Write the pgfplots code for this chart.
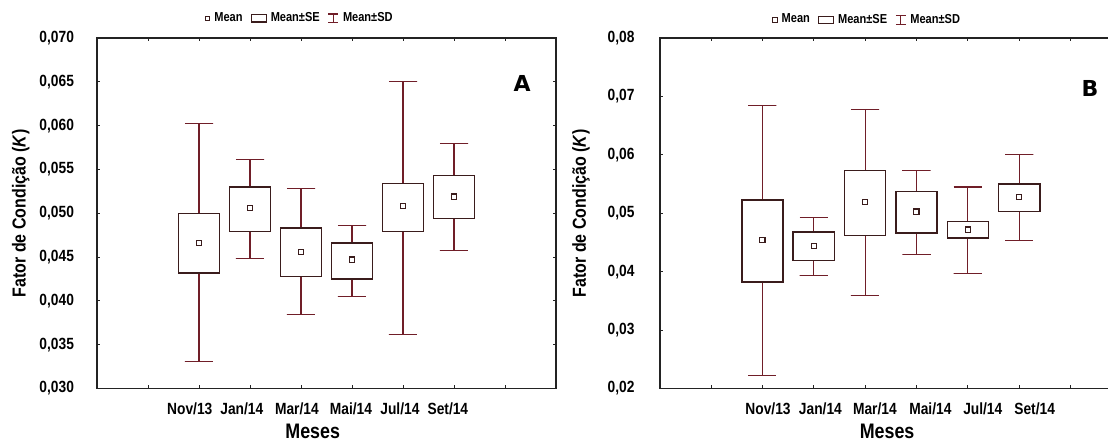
\documentclass[border=0pt]{standalone}
\usepackage{fontspec}
\setmainfont{Liberation Sans}[FakeStretch=0.85]
\newfontfamily\heavyfont{DejaVu Sans}
\usepackage{pgfplots}
\pgfplotsset{compat=1.18}
\definecolor{boxcol}{RGB}{58,28,28}
\definecolor{whiskcol}{RGB}{112,30,40}
\definecolor{axcol}{RGB}{35,35,35}

\pgfplotsset{
  kstyle/.style={
    scale only axis, height=175.25pt,
    xmin=0, xmax=9,
    xtick={1,2,3,4,5,6,7,8}, xticklabels={},
    extra x tick style={grid=none, major tick length=0pt},
    axis line style={draw=axcol, line width=0.9pt},
    major tick length=1.5pt,
    tick style={draw=axcol, line width=0.4pt},
    tick label style={font=\bfseries\fontsize{8.1}{9.7}\selectfont, text=black},
    /pgf/number format/assume math mode=true,
    scaled y ticks=false,
    xticklabel style={yshift=-3.5pt},
    xlabel style={font=\bfseries\fontsize{10.5}{12}\selectfont, anchor=center, yshift=-21.5pt},
    ylabel style={font=\bfseries\fontsize{9.4}{11}\selectfont, anchor=center},
    legend style={draw=none, fill=none, legend columns=-1, anchor=center,
      font=\bfseries\fontsize{6.5}{7.5}\selectfont, inner sep=0pt,
      /tikz/every even column/.append style={column sep=2pt}},
  },
  whisk/.style={draw=whiskcol, line width=0.55pt, mark=none, forget plot},
  sebox/.style={draw=boxcol, fill=white, line width=0.75pt, mark=none, forget plot},
  meanstyle/.style={only marks, mark=square, mark size=1.3pt,
    mark options={draw=boxcol, line width=0.6pt, fill=white}, forget plot},
}

\begin{document}
\begin{tikzpicture}
\useasboundingbox (0,0) rectangle (554pt,222pt);
\clip (0,0) rectangle (554pt,222pt);

% ---------------- Panel A ----------------
\begin{axis}[kstyle, at={(48.5pt,27.75pt)}, anchor=south west, width=229.5pt,
  ymin=0.03, ymax=0.07,
  ytick={0.03,0.035,0.04,0.045,0.05,0.055,0.06,0.065,0.07},
  yticklabel style={/pgf/number format/.cd, fixed, fixed zerofill, precision=3, use comma, /tikz/.cd, xshift=-8pt},
  extra x ticks={1.82,2.84,3.92,4.98,5.94,6.88},
  extra x tick labels={Nov/13,Jan/14,Mar/14,Mai/14,Jul/14,Set/14},
  xlabel={Meses}, xlabel style={at={(axis description cs:0.47,0)}},
  ylabel={Fator de Condição (\textit{K})}, ylabel style={at={(axis description cs:-0.166,0.5)}},
  legend style={at={(axis description cs:0.444,1)}, yshift=9.85pt},
]
% whiskers: mean +- SD
\addplot[whisk] coordinates {(1.725,0.0602) (2.275,0.0602) (2,0.0602) (2,0.0331) (1.725,0.0331) (2.275,0.0331)};
\addplot[whisk] coordinates {(2.725,0.0561) (3.275,0.0561) (3,0.0561) (3,0.0448) (2.725,0.0448) (3.275,0.0448)};
\addplot[whisk] coordinates {(3.725,0.0528) (4.275,0.0528) (4,0.0528) (4,0.0384) (3.725,0.0384) (4.275,0.0384)};
\addplot[whisk] coordinates {(4.725,0.0486) (5.275,0.0486) (5,0.0486) (5,0.0405) (4.725,0.0405) (5.275,0.0405)};
\addplot[whisk] coordinates {(5.725,0.0650) (6.275,0.0650) (6,0.0650) (6,0.0362) (5.725,0.0362) (6.275,0.0362)};
\addplot[whisk] coordinates {(6.725,0.0580) (7.275,0.0580) (7,0.0580) (7,0.0457) (6.725,0.0457) (7.275,0.0457)};
% boxes: mean +- SE
\addplot[sebox] coordinates {(1.6,0.0432) (2.4,0.0432) (2.4,0.0500) (1.6,0.0500)} -- cycle;
\addplot[sebox] coordinates {(2.6,0.0479) (3.4,0.0479) (3.4,0.0530) (2.6,0.0530)} -- cycle;
\addplot[sebox] coordinates {(3.6,0.0428) (4.4,0.0428) (4.4,0.0483) (3.6,0.0483)} -- cycle;
\addplot[sebox] coordinates {(4.6,0.0425) (5.4,0.0425) (5.4,0.0466) (4.6,0.0466)} -- cycle;
\addplot[sebox] coordinates {(5.6,0.0479) (6.4,0.0479) (6.4,0.0534) (5.6,0.0534)} -- cycle;
\addplot[sebox] coordinates {(6.6,0.0494) (7.4,0.0494) (7.4,0.0543) (6.6,0.0543)} -- cycle;
% means
\addplot[meanstyle] coordinates {(2,0.0466) (3,0.0506) (4,0.0456) (5,0.0447) (6,0.0508) (7,0.0519)};
\addlegendimage{legend image code/.code={\draw[boxcol, line width=0.5pt, fill=white] (-1.1pt,-1.1pt) rectangle (1.1pt,1.1pt);}}
\addlegendentry{Mean}
\addlegendimage{legend image code/.code={\draw[boxcol, line width=0.6pt] (0pt,-1.8pt) rectangle (7.5pt,1.8pt);}}
\addlegendentry{Mean±SE}
\addlegendimage{legend image code/.code={\draw[whiskcol, line width=0.6pt] (0pt,2.2pt) -- (5pt,2.2pt) (2.5pt,2.2pt) -- (2.5pt,-2.2pt) (0pt,-2.2pt) -- (5pt,-2.2pt);}}
\addlegendentry{Mean±SD}
\node[font=\heavyfont\bfseries\fontsize{11}{13}\selectfont] at (rel axis cs:0.926,0.869) {A};
\end{axis}

% ---------------- Panel B ----------------
\begin{axis}[kstyle, at={(329.8pt,27.75pt)}, anchor=south west, width=231.2pt,
  ymin=0.02, ymax=0.08,
  ytick={0.02,0.03,0.04,0.05,0.06,0.07,0.08},
  yticklabel style={/pgf/number format/.cd, fixed, fixed zerofill, precision=2, use comma, /tikz/.cd, xshift=-9pt},
  extra x ticks={2.11,3.13,4.19,5.27,6.29,7.30},
  extra x tick labels={Nov/13,Jan/14,Mar/14,Mai/14,Jul/14,Set/14},
  xlabel={Meses}, xlabel style={at={(axis description cs:0.492,0)}},
  ylabel={Fator de Condição (\textit{K})}, ylabel style={at={(axis description cs:-0.170,0.5)}},
  legend style={at={(axis description cs:0.451,1)}, yshift=9pt},
]
\addplot[whisk] coordinates {(1.725,0.0684) (2.275,0.0684) (2,0.0684) (2,0.0222) (1.725,0.0222) (2.275,0.0222)};
\addplot[whisk] coordinates {(2.725,0.0493) (3.275,0.0493) (3,0.0493) (3,0.0393) (2.725,0.0393) (3.275,0.0393)};
\addplot[whisk] coordinates {(3.725,0.0678) (4.275,0.0678) (4,0.0678) (4,0.0359) (3.725,0.0359) (4.275,0.0359)};
\addplot[whisk] coordinates {(4.725,0.0573) (5.275,0.0573) (5,0.0573) (5,0.0430) (4.725,0.0430) (5.275,0.0430)};
\addplot[whisk] coordinates {(5.725,0.0545) (6.275,0.0545) (6,0.0545) (6,0.0397) (5.725,0.0397) (6.275,0.0397)};
\addplot[whisk] coordinates {(6.725,0.0601) (7.275,0.0601) (7,0.0601) (7,0.0454) (6.725,0.0454) (7.275,0.0454)};
\addplot[sebox] coordinates {(1.6,0.0382) (2.4,0.0382) (2.4,0.0523) (1.6,0.0523)} -- cycle;
\addplot[sebox] coordinates {(2.6,0.0419) (3.4,0.0419) (3.4,0.0468) (2.6,0.0468)} -- cycle;
\addplot[sebox] coordinates {(3.6,0.0462) (4.4,0.0462) (4.4,0.0573) (3.6,0.0573)} -- cycle;
\addplot[sebox] coordinates {(4.6,0.0466) (5.4,0.0466) (5.4,0.0537) (4.6,0.0537)} -- cycle;
\addplot[sebox] coordinates {(5.6,0.0458) (6.4,0.0458) (6.4,0.0486) (5.6,0.0486)} -- cycle;
\addplot[sebox] coordinates {(6.6,0.0503) (7.4,0.0503) (7.4,0.0550) (6.6,0.0550)} -- cycle;
\addplot[meanstyle] coordinates {(2,0.0454) (3,0.0444) (4,0.0519) (5,0.0503) (6,0.0472) (7,0.0528)};
\addlegendimage{legend image code/.code={\draw[boxcol, line width=0.5pt, fill=white] (-1.1pt,-1.1pt) rectangle (1.1pt,1.1pt);}}
\addlegendentry{Mean}
\addlegendimage{legend image code/.code={\draw[boxcol, line width=0.6pt] (0pt,-1.8pt) rectangle (7.5pt,1.8pt);}}
\addlegendentry{Mean±SE}
\addlegendimage{legend image code/.code={\draw[whiskcol, line width=0.6pt] (0pt,2.2pt) -- (5pt,2.2pt) (2.5pt,2.2pt) -- (2.5pt,-2.2pt) (0pt,-2.2pt) -- (5pt,-2.2pt);}}
\addlegendentry{Mean±SD}
\node[font=\heavyfont\bfseries\fontsize{11}{13}\selectfont] at (rel axis cs:0.931,0.857) {B};
\end{axis}
\end{tikzpicture}
\end{document}
